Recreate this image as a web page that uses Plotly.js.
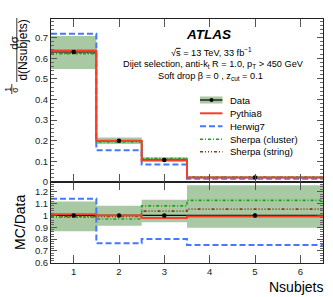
<!DOCTYPE html>
<html><head><meta charset="utf-8">
<script src="https://cdn.plot.ly/plotly-3.0.1.min.js"></script>
<style>html,body{margin:0;padding:0;background:#fff}#chart{width:333px;height:297px}</style>
</head><body><div id="chart"></div>
<script>
// ---- data ----
const binEdges = [0.5, 1.5, 2.5, 3.5, 6.5];
const dataX = [1, 2, 3, 5];
const xTickVals = [1, 2, 3, 4, 5, 6];
const xTickText = ['1', '2', '3', '4', '5', '6'];

// upper panel: normalised cross-section
const dataY = [0.630, 0.200, 0.106, 0.0215];
const dataErr = [0.004, 0.002, 0.0012, 0.0004];
const bandLo = [0.548, 0.184, 0.100, 0.0193];
const bandHi = [0.708, 0.216, 0.120, 0.0270];
const pythia = [0.637, 0.200, 0.104, 0.0213];
const herwig = [0.718, 0.154, 0.085, 0.0161];
const sherpaCluster = [0.622, 0.194, 0.114, 0.0243];
const sherpaString = [0.625, 0.198, 0.110, 0.0227];

// lower panel: MC/Data
const ratioData = [1, 1, 1, 1];
const ratioErr = [0.006, 0.010, 0.011, 0.018];
const ratioBandLo = [0.867, 0.913, 0.943, 0.896];
const ratioBandHi = [1.118, 1.082, 1.133, 1.254];
const ratioPythia = [1.01, 1.00, 0.977, 0.99];
const ratioHerwig = [1.14, 0.765, 0.80, 0.75];
const ratioCluster = [0.985, 0.97, 1.08, 1.127];
const ratioString = [0.99, 0.99, 1.036, 1.053];

const seriesNames = ['Data', 'Pythia8', 'Herwig7', 'Sherpa (cluster)', 'Sherpa (string)'];

// ---- styles ----
const BAND = '#a8c9a3';
const C_PY = '#f4402a', C_HW = '#4577ff', C_SC = '#1ea31e', C_SS = '#8b3a14';
const D_HW = '6px,3px', D_SC = '3px,2px,1px,2px', D_SS = '3px,2px,1px,2px,1px,2px,1px,2px';
const FONT = 'Liberation Sans, Arial, sans-serif';

function stepY(v) { return v.concat([v[v.length - 1]]); }
function stepLine(v, xa, ya, color, width, dash) {
  return {x: binEdges, y: stepY(v), xaxis: xa, yaxis: ya, mode: 'lines', type: 'scatter',
    line: {shape: 'hv', color: color, width: width, dash: dash || 'solid'}, showlegend: false, hoverinfo: 'skip'};
}
function band(lo, hi, xa, ya) {
  return [
    {x: binEdges, y: stepY(lo), xaxis: xa, yaxis: ya, mode: 'lines', line: {shape: 'hv', width: 0}, showlegend: false, hoverinfo: 'skip'},
    {x: binEdges, y: stepY(hi), xaxis: xa, yaxis: ya, mode: 'lines', line: {shape: 'hv', width: 0}, fill: 'tonexty', fillcolor: BAND, showlegend: false, hoverinfo: 'skip'}
  ];
}
function panel(lo, hi, d, dErr, py8, hw, sc, ss, xa, ya) {
  return band(lo, hi, xa, ya).concat([
    stepLine(d, xa, ya, '#000', 1.2),
    stepLine(hw, xa, ya, C_HW, 2, D_HW),
    stepLine(ss, xa, ya, C_SS, 1.6, D_SS),
    stepLine(sc, xa, ya, C_SC, 1.6, D_SC),
    stepLine(py8, xa, ya, C_PY, 2),
    {x: dataX, y: d, xaxis: xa, yaxis: ya, mode: 'markers', type: 'scatter',
      marker: {color: '#000', size: 4.5},
      error_y: {type: 'data', array: dErr, color: '#000', thickness: 1, width: 0},
      showlegend: false, hoverinfo: 'skip'}
  ]);
}

const traces = panel(bandLo, bandHi, dataY, dataErr, pythia, herwig, sherpaCluster, sherpaString, 'x2', 'y')
  .concat(panel(ratioBandLo, ratioBandHi, ratioData, ratioErr, ratioPythia, ratioHerwig, ratioCluster, ratioString, 'x', 'y2'));

// ---- layout helpers (pixel -> paper) ----
const PL = 51, PT = 19, PW = 272, PH = 244;
function px(x) { return (x - PL) / PW; }
function py(y) { return (PT + PH - y) / PH; }

const annotations = [];
const shapes = [];
function txt(text, x, y, size, opts) {
  annotations.push(Object.assign({text: text, xref: 'paper', yref: 'paper', x: px(x), y: py(y),
    xanchor: 'center', yanchor: 'middle', showarrow: false,
    font: {family: FONT, size: size, color: '#000'}}, opts || {}));
}
function seg(x0, y0, x1, y1, color, width, dash) {
  shapes.push({type: 'line', xref: 'paper', yref: 'paper', x0: px(x0), y0: py(y0), x1: px(x1), y1: py(y1),
    line: {color: color, width: width, dash: dash || 'solid'}});
}

// header text
txt('<b><i>ATLAS</i></b>', 208, 35, 13.5);
txt('√<span style="text-decoration:overline">s</span> = 13 TeV, 33 fb<sup>−1</sup>', 211, 51.5, 9.2);
txt('Dijet selection, anti-k<sub>t</sub> R = 1.0, p<sub>T</sub> > 450 GeV', 213, 64, 9.2);
txt('Soft drop β = 0 , z<sub>cut</sub> = 0.1', 210, 76.5, 9.2);

// legend
const legY = [100, 113.3, 126.3, 139.3, 151.8];
shapes.push({type: 'rect', xref: 'paper', yref: 'paper', x0: px(200), x1: px(222.5), y0: py(96.5), y1: py(103.5),
  fillcolor: BAND, line: {width: 0}});
seg(200, legY[0], 222.5, legY[0], '#000', 1.2);
shapes.push({type: 'circle', xref: 'paper', yref: 'paper', x0: px(209.5), x1: px(213.5), y0: py(102), y1: py(98),
  fillcolor: '#000', line: {width: 0}});
seg(200, legY[1], 222.5, legY[1], C_PY, 2);
seg(200, legY[2], 222.5, legY[2], C_HW, 2, D_HW);
seg(200, legY[3], 222.5, legY[3], C_SC, 1.6, D_SC);
seg(200, legY[4], 222.5, legY[4], C_SS, 1.6, D_SS);
seriesNames.forEach((n, i) => txt(n, 228, legY[i], 9.5, {xanchor: 'left'}));

// y title upper: (1/sigma) (d sigma / d(Nsubjets))
txt('1', 7.8, 89, 8.5, {textangle: -90});
seg(11.8, 84, 11.8, 94, '#000', 0.8);
txt('σ', 15.2, 89.5, 8.5, {textangle: -90});
txt('dσ', 13.2, 42.5, 11.5, {textangle: -90});
seg(16.8, 18, 16.8, 82, '#000', 0.8);
txt('d(Nsubjets)', 22.6, 50, 12, {textangle: -90});

// y title lower and x title
txt('MC/Data', 20, 223, 14, {textangle: -90});
txt('Nsubjets', 295.5, 286.5, 14, {xanchor: 'center'});

const tickFont = {family: FONT, size: 9.5, color: '#222'};
const commonX = {range: [0.5, 6.5], tickvals: xTickVals, ticktext: xTickText, ticks: 'inside', ticklen: 8,
  tickcolor: '#555', showline: true, linecolor: '#222', linewidth: 1, mirror: 'ticks', showgrid: false,
  zeroline: false, tickfont: tickFont};
const commonY = {ticks: 'inside', ticklen: 6, tickcolor: '#555', showline: true, linecolor: '#222', linewidth: 1,
  mirror: 'ticks', showgrid: false, zeroline: false, tickfont: tickFont, dtick: 0.1};

const layout = {
  width: 333, height: 297,
  margin: {l: PL, r: 333 - PL - PW, t: PT, b: 297 - PT - PH, pad: 0},
  paper_bgcolor: '#fff', plot_bgcolor: '#fff',
  showlegend: false,
  font: {family: FONT, color: '#000'},
  xaxis: Object.assign({}, commonX, {anchor: 'y2', domain: [0, 1]}),
  xaxis2: Object.assign({}, commonX, {anchor: 'y', domain: [0, 1], matches: 'x', showticklabels: false}),
  yaxis: Object.assign({}, commonY, {domain: [0.332, 1], range: [0, 0.79], tick0: 0,
    minor: {dtick: 0.02, ticklen: 3, ticks: 'inside', tickcolor: '#666'}}),
  yaxis2: Object.assign({}, commonY, {domain: [0, 0.332], range: [0.598, 1.282], tick0: 0.6,
    minor: {dtick: 0.02, ticklen: 3, ticks: 'inside', tickcolor: '#666'}}),
  annotations: annotations,
  shapes: shapes
};

Plotly.newPlot('chart', traces, layout, {staticPlot: true, displayModeBar: false});
</script>
</body></html>
